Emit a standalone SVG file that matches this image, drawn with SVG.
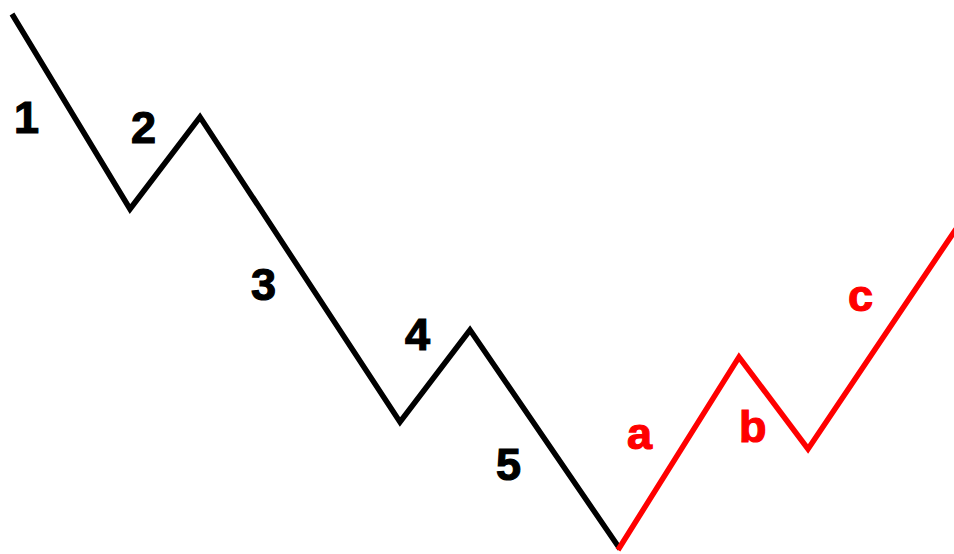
<svg xmlns="http://www.w3.org/2000/svg" width="954" height="554" viewBox="0 0 954 554">
<style>
.w{fill:none;stroke-width:5.5;stroke-linejoin:miter;stroke-linecap:butt}
.k{stroke:#000}
.r{stroke:#ff0000}
text{font-family:"Liberation Sans",Arial,sans-serif;font-weight:bold;font-size:45px;stroke-width:1.2}
.tk{fill:#000;stroke:#000}
.tr{fill:#ff0000;stroke:#ff0000}
</style>
<rect width="954" height="554" fill="#fff"/>
<g id="connectors">
<polyline class="w k" points="12,14 130,209 200,117 400,422 470,330 620,549"/>
<polyline class="w r" points="618,550 739,357 808,449 956,229"/>
</g>
<g id="label-1"><text class="tk" x="14" y="133">1</text></g>
<g id="label-2"><text class="tk" x="131" y="143">2</text></g>
<g id="label-3"><text class="tk" x="251" y="300">3</text></g>
<g id="label-4"><text class="tk" x="405" y="350">4</text></g>
<g id="label-5"><text class="tk" x="496" y="480">5</text></g>
<g id="label-a"><text class="tr" x="627" y="449">a</text></g>
<g id="label-b"><text class="tr" x="739" y="442">b</text></g>
<g id="label-c"><text class="tr" x="848" y="311">c</text></g>
</svg>
